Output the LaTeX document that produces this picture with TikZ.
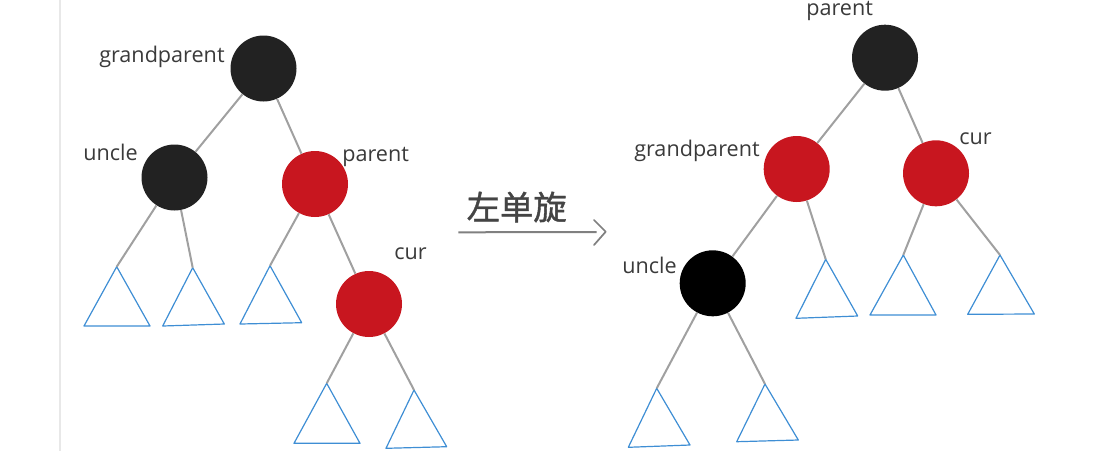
\documentclass[tikz,border=0pt]{standalone}
\usepackage{fontspec}
\setmainfont{Open Sans}
\newfontfamily\cjk[AutoFakeBold=1.2]{Noto Sans CJK SC}
\definecolor{nodered}{HTML}{C8161F}
\definecolor{nodeblack}{HTML}{222222}
\definecolor{edgegray}{HTML}{A0A0A0}
\definecolor{triblue}{HTML}{3E8ED4}
\definecolor{labelgray}{HTML}{3A3A3A}
\definecolor{bordergray}{HTML}{E8E8E8}
\tikzset{
  rb/.style={circle,minimum size=49.5pt,inner sep=0pt,draw=none},
  rednode/.style={rb,fill=nodered},
  blacknode/.style={rb,fill=nodeblack},
  edge/.style={draw=edgegray,line width=1.5pt},
  tri/.style={draw=triblue,line width=0.9pt,line join=round},
  lbl/.style={anchor=base west,inner sep=0pt,text=labelgray,font=\fontsize{16.2pt}{19pt}\selectfont}
}
\begin{document}
\begin{tikzpicture}[x=0.75pt,y=-0.75pt]
\useasboundingbox (0,0) rectangle (1109,451);
\draw[bordergray,line width=1.5pt] (59.5,0) -- (59.5,451);

% ---------- left tree ----------
\node[blacknode] (Lg) at (263.5,68.5) {};
\node[blacknode] (Lu) at (174.5,177.5) {};
\node[rednode] (Lp) at (315,184) {};
\node[rednode] (Lc) at (369,304) {};

\node[lbl] (LgT) at (99,62.5) {grandparent};
\node[lbl] (LuT) at (83,160.5) {uncle};
\node[lbl] (LpT) at (342,161.5) {parent};
\node[lbl] (LcT) at (394,259) {cur};

\coordinate (Lt1) at (116.7,266.7);
\coordinate (Lt2) at (192.7,267.7);
\coordinate (Lt3) at (270,265.7);
\coordinate (Lt4) at (326.7,383.3);
\coordinate (Lt5) at (414,390);
\draw[tri] (Lt1) -- (150,326) -- (84,326) -- cycle;
\draw[tri] (Lt2) -- (224.3,324) -- (162.7,326) -- cycle;
\draw[tri] (Lt3) -- (301.7,322.7) -- (240,324) -- cycle;
\draw[tri] (Lt4) -- (360,443.3) -- (294,443.3) -- cycle;
\draw[tri] (Lt5) -- (446.7,446.7) -- (386,448.3) -- cycle;

\draw[edge] (Lg) -- (Lu);
\draw[edge] (Lg) -- (Lp);
\draw[edge] (Lp) -- (Lc);
\draw[edge] (Lu) -- (Lt1);
\draw[edge] (Lu) -- (Lt2);
\draw[edge] (Lp) -- (Lt3);
\draw[edge] (Lc) -- (Lt4);
\draw[edge] (Lc) -- (Lt5);

% ---------- arrow ----------
\coordinate (As) at (458.3,232.3);
\coordinate (Ae) at (596.7,232);
\draw[edgegray!80!black,line width=1.5pt] (As) -- (Ae);
\draw[edgegray!80!black,line width=1.3pt,line cap=round,line join=round] (594,220) -- (605.7,231.7) -- (594,245);
\node[inner sep=0pt,text=labelgray!95,font=\cjk\bfseries\fontsize{25pt}{27pt}\selectfont] (At) at (516.7,207) {左单旋};

% ---------- right tree ----------
\node[blacknode] (Rp) at (885,57.7) {};
\node[rednode] (Rg) at (796.7,169) {};
\node[rednode] (Rc) at (936,173.3) {};
\node[rb,fill=black] (Ru) at (712.7,283.3) {};

\node[lbl] (RpT) at (806,15) {parent};
\node[lbl] (RgT) at (634,156) {grandparent};
\node[lbl] (RcT) at (959,144) {cur};
\node[lbl] (RuT) at (622,273.3) {uncle};

\coordinate (Rt1) at (656.7,388.3);
\coordinate (Rt2) at (765,384);
\coordinate (Rt3) at (825.7,259.3);
\coordinate (Rt4) at (903.3,255);
\coordinate (Rt5) at (1000,255);
\draw[tri] (Rt1) -- (690,445) -- (628.3,447.3) -- cycle;
\draw[tri] (Rt2) -- (798.3,440) -- (736.7,441.7) -- cycle;
\draw[tri] (Rt3) -- (857.7,316) -- (796,318.3) -- cycle;
\draw[tri] (Rt4) -- (936,315) -- (870,315) -- cycle;
\draw[tri] (Rt5) -- (1034.3,314) -- (967.7,314.3) -- cycle;

\draw[edge] (Rp) -- (Rg);
\draw[edge] (Rp) -- (Rc);
\draw[edge] (Rg) -- (Ru);
\draw[edge] (Rg) -- (Rt3);
\draw[edge] (Rc) -- (Rt4);
\draw[edge] (Rc) -- (Rt5);
\draw[edge] (Ru) -- (Rt1);
\draw[edge] (Ru) -- (Rt2);
\end{tikzpicture}
\end{document}
